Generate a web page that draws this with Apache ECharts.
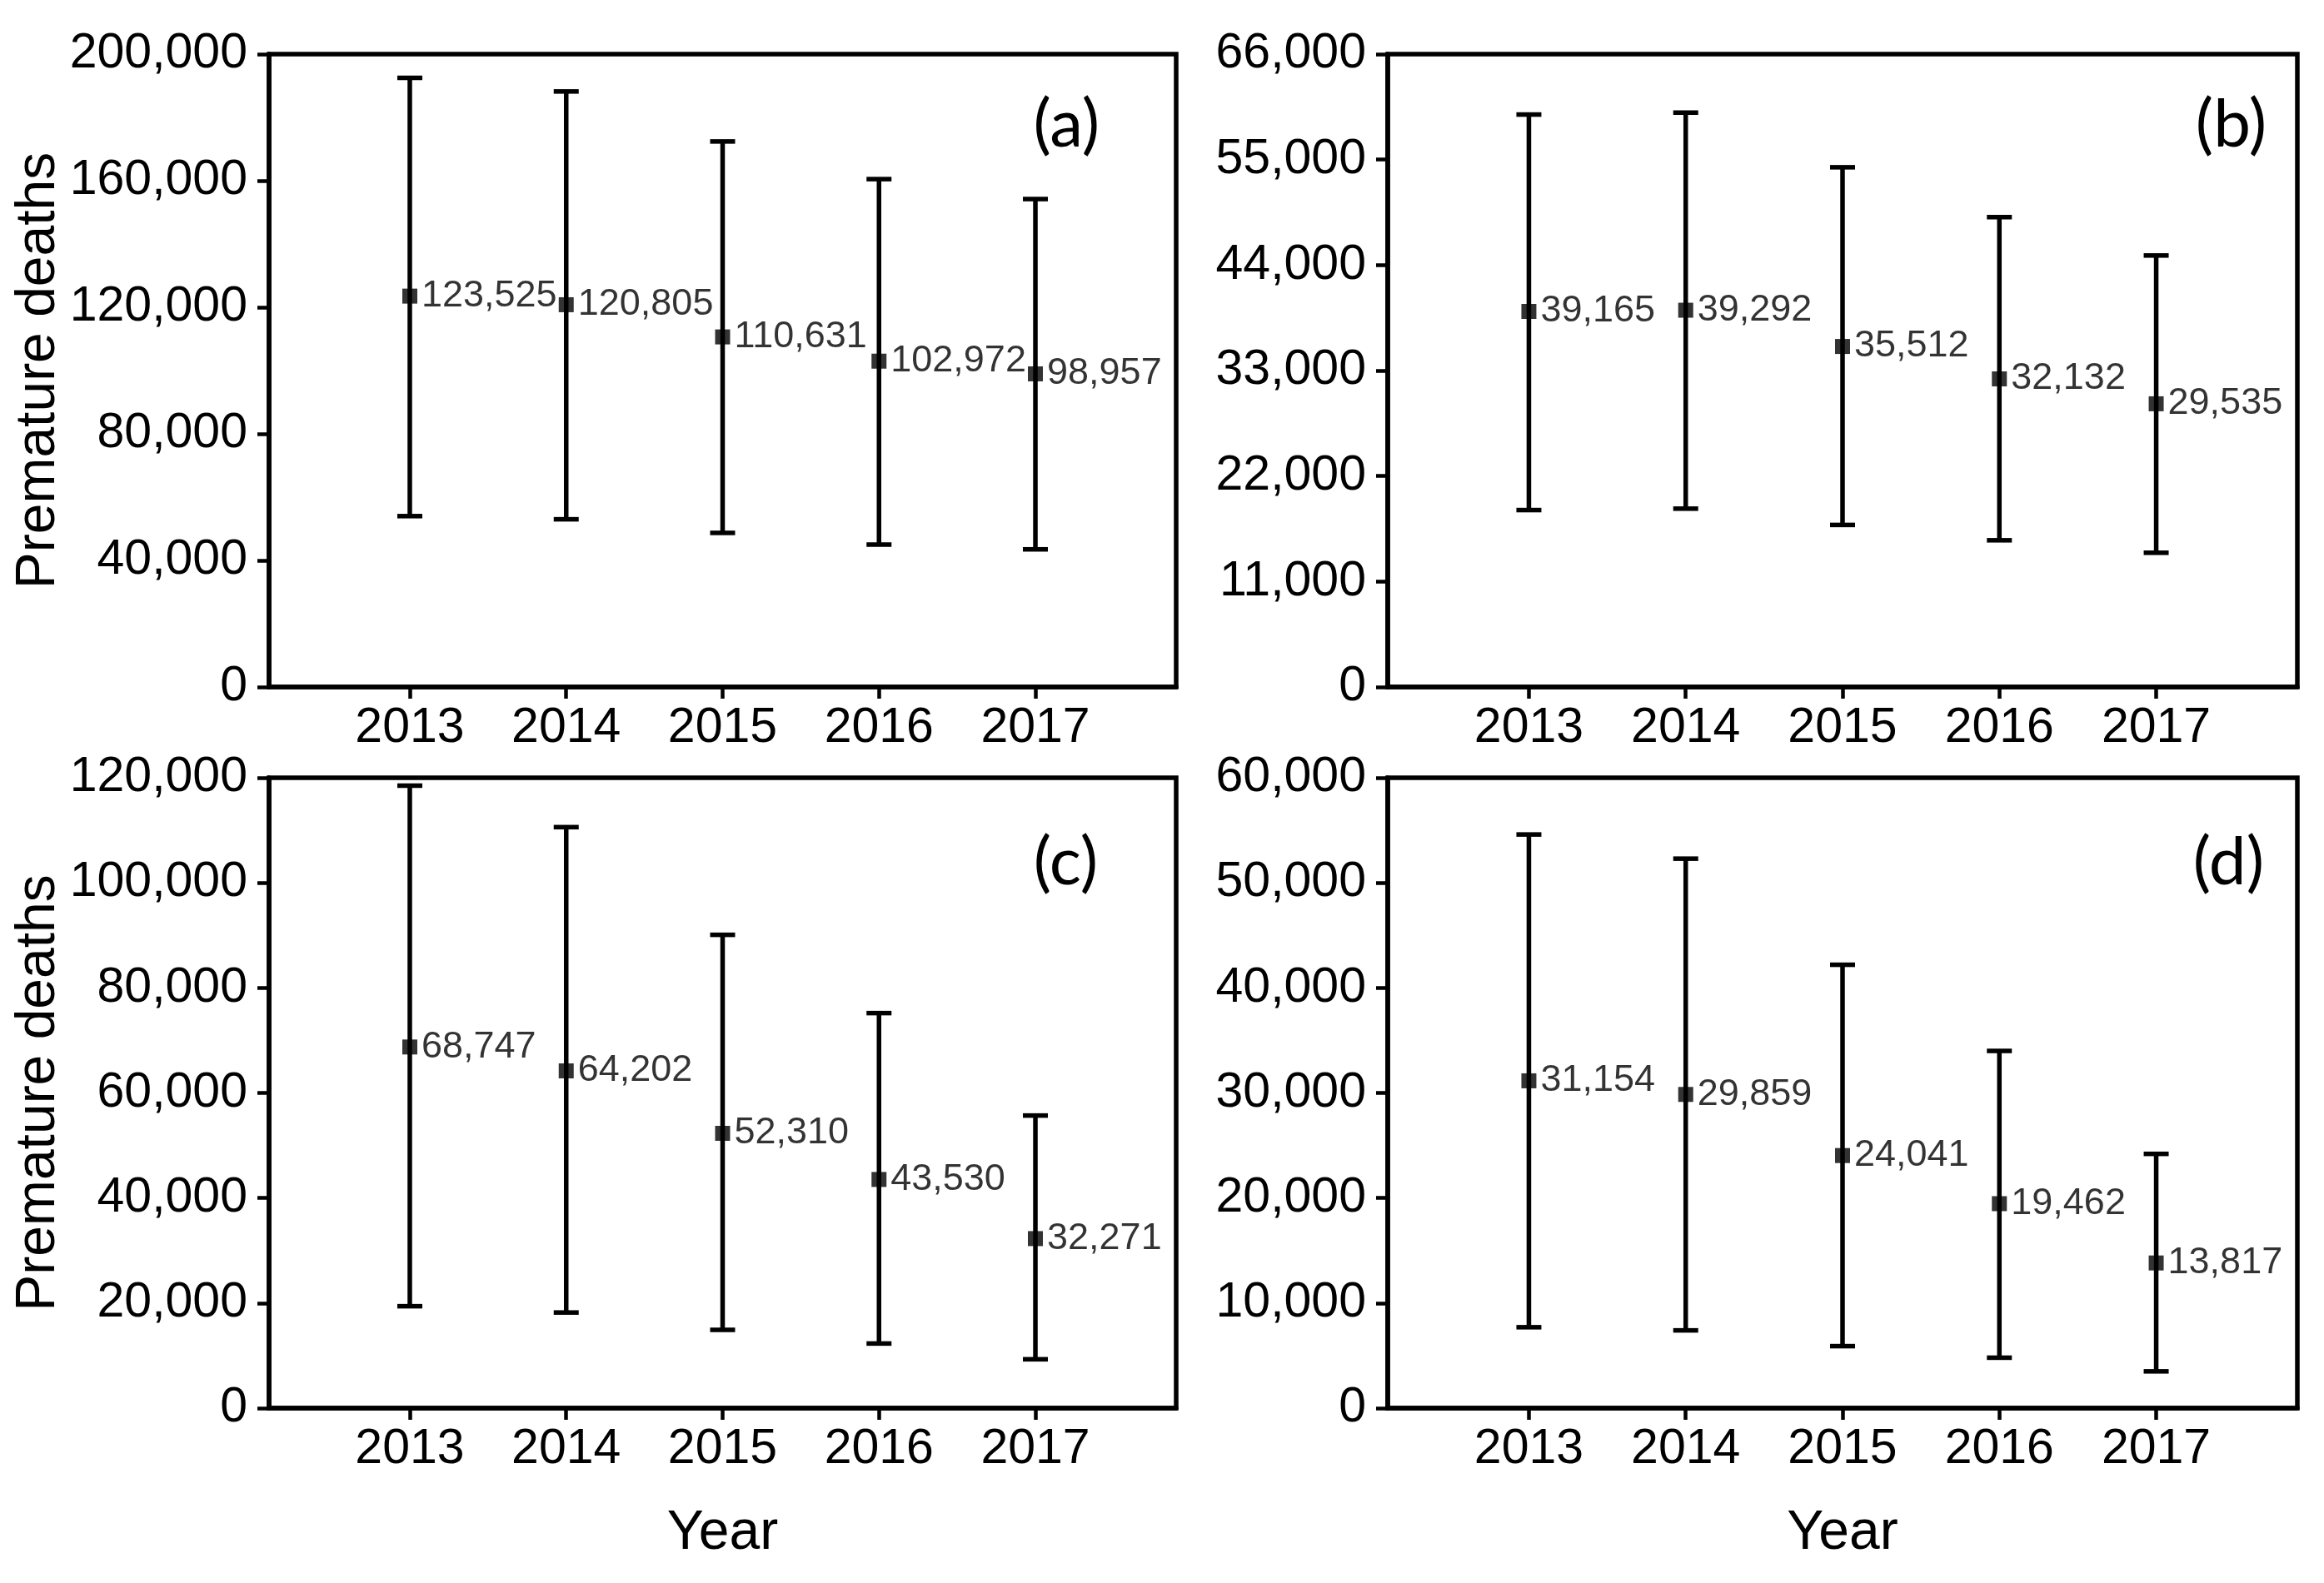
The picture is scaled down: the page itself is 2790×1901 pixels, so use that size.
<!DOCTYPE html>
<html>
<head>
<meta charset="utf-8">
<script src="https://cdn.jsdelivr.net/npm/echarts@6/dist/echarts.min.js"></script>
<style>html,body{margin:0;padding:0;background:#fff;}#chart{width:2790px;height:1901px;}</style>
</head>
<body>
<div id="chart"></div>
<script>
const years = [2013, 2014, 2015, 2016, 2017];

const aMean = [123525, 120805, 110631, 102972, 98957];
const aLow  = [54000, 53000, 48700, 45000, 43500];
const aHigh = [192500, 188200, 172400, 160500, 154200];

const bMean = [39165, 39292, 35512, 32132, 29535];
const bLow  = [18450, 18600, 16900, 15300, 14000];
const bHigh = [59700, 59900, 54200, 49000, 45000];

const cMean = [68747, 64202, 52310, 43530, 32271];
const cLow  = [19400, 18200, 14900, 12300, 9300];
const cHigh = [118500, 110600, 90100, 75200, 55700];

const dMean = [31154, 29859, 24041, 19462, 13817];
const dLow  = [7700, 7400, 5900, 4800, 3500];
const dHigh = [54600, 52300, 42200, 34000, 24200];

const yMax = [200000, 66000, 120000, 60000];
const yInterval = [40000, 11000, 20000, 10000];
const panelLabels = ['(a)', '(b)', '(c)', '(d)'];

const means = [aMean, bMean, cMean, dMean];
const lows = [aLow, bLow, cLow, dLow];
const highs = [aHigh, bHigh, cHigh, dHigh];

const fmt = v => Number(v).toLocaleString('en-US');
const FONT = '"Liberation Sans", Arial, sans-serif';
const INK = '#000';

const grids = [
  {left: 323, right: 1378, top: 65, bottom: 1076},
  {left: 1666, right: 32, top: 65, bottom: 1076},
  {left: 323, right: 1378, top: 934, bottom: 210},
  {left: 1666, right: 32, top: 934, bottom: 210}
].map(g => Object.assign(g, {show: true, borderColor: INK, borderWidth: 5.5, backgroundColor: 'transparent', containLabel: false}));

const xAxis = grids.map((g, i) => ({
  type: 'value', gridIndex: i, min: 2012.1, max: 2017.9,
  axisLine: {show: true, onZero: false, lineStyle: {color: INK, width: 5.5}},
  axisTick: {show: true, inside: false, length: 14, lineStyle: {color: INK, width: 4.5}, customValues: years},
  axisLabel: {show: true, customValues: years, fontSize: 59, fontFamily: FONT, color: INK, margin: 20, formatter: v => String(Math.round(v))},
  splitLine: {show: false},
  name: i >= 2 ? 'Year' : '', nameLocation: 'middle', nameGap: 118,
  nameTextStyle: {fontSize: 66, fontFamily: FONT, color: INK}
}));

const yAxis = grids.map((g, i) => ({
  type: 'value', gridIndex: i, min: 0, max: yMax[i], interval: yInterval[i],
  axisLine: {show: true, onZero: false, lineStyle: {color: INK, width: 5.5}},
  axisTick: {show: true, inside: false, length: 14, lineStyle: {color: INK, width: 4.5}},
  axisLabel: {fontSize: 59, fontFamily: FONT, color: INK, margin: 26, formatter: fmt},
  splitLine: {show: false},
  name: (i % 2 === 0) ? 'Premature deaths' : '', nameLocation: 'middle', nameGap: 216,
  nameTextStyle: {fontSize: 66, fontFamily: FONT, color: INK}
}));

const series = [];
for (let i = 0; i < 4; i++) {
  series.push({
    type: 'custom', xAxisIndex: i, yAxisIndex: i, silent: true, z: 2,
    data: years.map((y, k) => [y, lows[i][k], highs[i][k]]),
    renderItem: function (params, api) {
      const x = api.value(0);
      const pLo = api.coord([x, api.value(1)]);
      const pHi = api.coord([x, api.value(2)]);
      const w = 15;
      const st = {stroke: INK, lineWidth: 5.5};
      return {
        type: 'group',
        children: [
          {type: 'line', shape: {x1: pLo[0], y1: pLo[1], x2: pHi[0], y2: pHi[1]}, style: st},
          {type: 'line', shape: {x1: pHi[0] - w, y1: pHi[1], x2: pHi[0] + w, y2: pHi[1]}, style: st},
          {type: 'line', shape: {x1: pLo[0] - w, y1: pLo[1], x2: pLo[0] + w, y2: pLo[1]}, style: st}
        ]
      };
    }
  });
  series.push({
    type: 'scatter', xAxisIndex: i, yAxisIndex: i, z: 3,
    symbol: 'rect', symbolSize: 18,
    itemStyle: {color: INK},
    data: years.map((y, k) => [y, means[i][k]]),
    label: {
      show: true, position: 'right', distance: 5,
      fontSize: 45, fontFamily: FONT, color: '#000',
      formatter: p => fmt(p.value[1])
    }
  });
}

const labelPos = [[1320, 150], [2721, 150], [1318, 1036], [2718, 1036]];
const graphic = panelLabels.map((t, i) => ({
  type: 'text', x: labelPos[i][0], y: labelPos[i][1],
  style: {text: t, fontSize: 80, fontFamily: 'Lato, "Open Sans", sans-serif', fill: INK, align: 'right', verticalAlign: 'middle'}
}));

const chart = echarts.init(document.getElementById('chart'), null, {renderer: 'canvas'});
chart.setOption({
  backgroundColor: '#fff',
  animation: false,
  grid: grids, xAxis: xAxis, yAxis: yAxis, series: series, graphic: graphic
});
</script>
</body>
</html>
